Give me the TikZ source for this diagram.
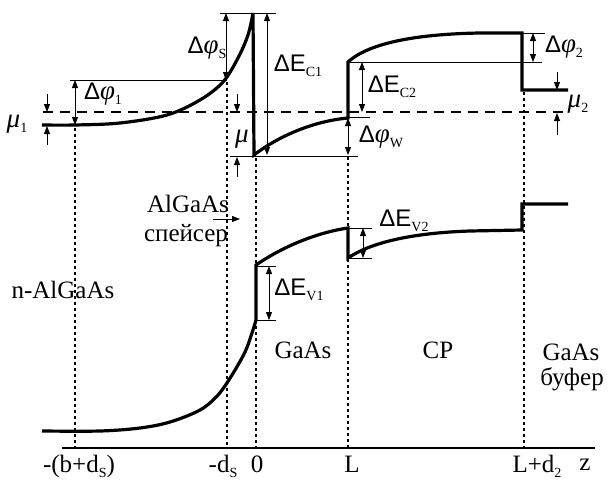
\documentclass[tikz,border=0pt]{standalone}
\usepackage{fontspec}
\setmainfont{Liberation Serif}
\newfontfamily\lsansfam{Liberation Sans}
\usetikzlibrary{arrows.meta}
\newcommand\mySb[1]{\raisebox{-5pt}{\fontsize{14}{14}\selectfont #1}}
\newcommand\myDl{{\lsansfam\fontsize{24}{24}\selectfont Δ}}
\newcommand\myPh{{\itshape\fontsize{27}{27}\selectfont φ}}
\newcommand\myEE{{\lsansfam\fontsize{24}{24}\selectfont E}}
\newcommand\myMu{{\itshape\fontsize{27}{27}\selectfont μ}}
\tikzset{
 band/.style={line width=3.2pt, line join=miter},
 thinl/.style={line width=0.8pt},
 dimarr/.style={line width=0.8pt, {Triangle[length=8pt,width=6pt]}-{Triangle[length=8pt,width=6pt]}},
 onearr/.style={line width=0.8pt, -{Triangle[length=8pt,width=6pt]}},
 dotv/.style={line width=2.2pt, dash pattern=on 2.5pt off 3.5pt},
 fermi/.style={line width=1.8pt, dash pattern=on 10pt off 7pt},
 lbl/.style={font=\fontsize{25}{27}\selectfont, inner sep=0pt, anchor=base},
 sym/.style={inner sep=0pt},
}
\begin{document}
\begin{tikzpicture}[x=1pt,y=-1pt]
\useasboundingbox (0,0) rectangle (609,479);
% dotted verticals
\draw[dotv] (75,128) -- (75,448);
\draw[dotv] (227,82) -- (227,448);
\draw[dotv] (256,158) -- (256,448);
\draw[dotv] (348,157) -- (348,448);
\draw[dotv] (524,92) -- (524,448);
% Fermi level
\draw[fermi] (43,112) -- (563,112);
% axis
\draw[line width=1.2pt] (62,448) -- (595,448);
% conduction band
\draw[band] plot[smooth, tension=0.55] coordinates {(42,125) (75,125) (120,123) (167,115) (200,100) (223,82) (238,58) (248,35) (253,13)}
  -- (254,155) .. controls (280,135) and (315,121) .. (348,118)
  -- (348,62) .. controls (370,42) and (420,34) .. (480,33) -- (522,33)
  -- (522,90) -- (568,90);
% valence band
\draw[band] plot[smooth, tension=0.55] coordinates {(42,431) (100,431) (140,428) (170,422) (200,410) (218,395) (232,375) (245,352) (252,333) (256,320)}
  -- (256,265) .. controls (285,245) and (320,232) .. (348,228)
  -- (348,258) .. controls (370,243) and (410,233) .. (470,231) -- (522,230)
  -- (522,204) -- (568,204);
% dimension lines
\draw[thinl] (70,80) -- (227,80);
\draw[dimarr] (75,80) -- (75,125);
\draw[thinl] (220,13) -- (252,13);
\draw[dimarr] (226,13) -- (226,80);
\draw[thinl] (254,13) -- (276,13);
\draw[dimarr] (267,13) -- (267,155);
\draw[onearr] (237,94) -- (237,112);
\draw[onearr] (237,177) -- (237,157);
\draw[thinl] (230,156) -- (358,156);
\draw[dimarr] (348,118) -- (348,155);
\draw[thinl] (348,62) -- (542,62);
\draw[thinl] (348,117) -- (370,117);
\draw[dimarr] (362,62) -- (362,112);
\draw[thinl] (522,33) -- (545,33);
\draw[dimarr] (533,33) -- (533,62);
\draw[onearr] (557,72) -- (557,90);
\draw[onearr] (557,135) -- (557,113);
\draw[onearr] (47,94) -- (47,112);
\draw[onearr] (47,145) -- (47,126);
\draw[thinl] (256,266) -- (276,266);
\draw[thinl] (256,320) -- (276,320);
\draw[dimarr] (269,266) -- (269,320);
\draw[thinl] (348,228) -- (372,228);
\draw[thinl] (348,258) -- (372,258);
\draw[dimarr] (363,228) -- (363,258);
\draw[onearr] (213,219) -- (240,219);
% symbol labels
\node[sym] (mu1) at (17,124) {\myMu\mySb{1}};
\node[sym] (dphi1) at (103,94) {\myDl\myPh\mySb{1}};
\node[sym] (dphis) at (207,48) {\myDl\myPh\mySb{S}};
\node[sym] (mu) at (242,139) {\myMu};
\node[sym] (dec1) at (298,66) {\myDl\myEE\mySb{C1}};
\node[sym] (dphiw) at (381,137) {\myDl\myPh\mySb{W}};
\node[sym] (dec2) at (392,87) {\myDl\myEE\mySb{C2}};
\node[sym] (dphi2) at (564,47) {\myDl\myPh\mySb{2}};
\node[sym] (mu2) at (578,104) {\myMu\mySb{2}};
\node[sym] (dev1) at (299,290) {\myDl\myEE\mySb{V1}};
\node[sym] (dev2) at (404,221) {\myDl\myEE\mySb{V2}};
% region labels
\node[lbl] (algaas) at (188,212) {AlGaAs};
\node[lbl] (spacer) at (186,241) {спейсер};
\node[lbl] (nalgaas) at (63,298) {n-AlGaAs};
\node[lbl] (gaas) at (303,358) {GaAs};
\node[lbl] (cp) at (438,358) {CP};
\node[lbl] (gaasb) at (571,360) {GaAs};
\node[lbl] (bufer) at (572,385) {буфер};
% axis labels
\node[lbl] (t1) at (79,472) {-(b+d\mySb{S})};
\node[lbl] (t2) at (223,472) {-d\mySb{S}};
\node[lbl] (t3) at (257,472) {0};
\node[lbl] (t4) at (352,472) {L};
\node[lbl] (t5) at (537,472) {L+d\mySb{2}};
\node[lbl] (t6) at (585,470) {z};
\end{tikzpicture}
\end{document}
